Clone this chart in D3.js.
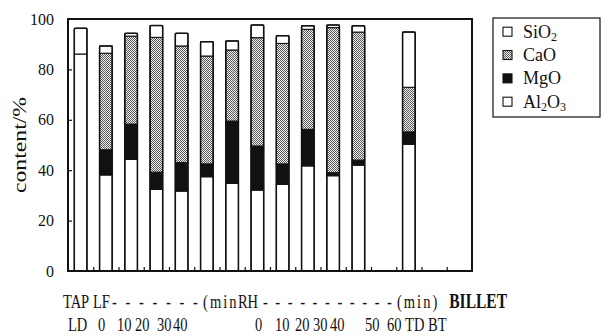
<!DOCTYPE html>
<html><head><meta charset="utf-8">
<script src="https://cdn.jsdelivr.net/npm/d3@7"></script>
<style>html,body{margin:0;padding:0;background:#fff;} svg{display:block;}</style>
</head><body><svg id="c" width="602" height="336"></svg>
<script>
// ---------- data ----------
const categories = ["TAP LD","LF 0","LF 10","LF 20","LF 30","LF 40","LF end","RH 0","RH 10","RH 20","RH 30","RH 40","RH 50","BILLET","TD","BT"];
const al2o3 = [86.1, 38.1, 44.3, 32.4, 31.7, 37.4, 34.8, 32.1, 34.4, 41.7, 37.8, 42.0, 0, 50.3, 0, 0];
const mgo   = [0,    10.0, 14.0,  6.8, 11.3,  5.1, 24.7, 17.5,  8.1, 14.5,  1.2,  2.0, 0,  4.9, 0, 0];
const cao   = [0,    38.3, 34.9, 53.5, 46.3, 42.8, 28.2, 43.0, 47.8, 39.7, 57.6, 50.8, 0, 17.7, 0, 0];
const sio2  = [10.2,  2.9,  1.1,  4.7,  5.0,  5.7,  3.6,  5.0,  3.1,  1.4,  1.0,  2.5, 0, 21.9, 0, 0];
const seriesKeys = ["Al2O3","MgO","CaO","SiO2"];
const legendKeys = ["SiO2","CaO","MgO","Al2O3"];
const yTicks = [0, 20, 40, 60, 80, 100];
const yTitle = "content/%";
const topRowLabels = ["TAP","LF","-------","(min","RH","-----------","(min)","BILLET"];
const bottomRowLabels = ["LD","0","10","20","30","40","0","10","20","30","40","50","60","TD","BT"];

// ---------- layout (not data) ----------
const m = {left: 68, right: 472, top: 19, bottom: 271};
const topRowStart = [-0.2, 0.99, 1.74, 5.35, 6.73, 7.72, 13.03, 15.1]; // slot units
const dashWidth = {2: 86, 5: 129};
const bottomRowStart = [0.0, 1.19, 1.94, 2.65, 3.52, 4.16, 7.41, 8.20, 8.99, 9.70, 10.38, 11.76, 12.63, 13.35, 14.26];
const rowFont = 14.5, rowStretch = 1.35;

const svg = d3.select("#c");
const defs = svg.append("defs");
const pat = defs.append("pattern").attr("id","dots").attr("patternUnits","userSpaceOnUse")
  .attr("width",2).attr("height",2);
pat.append("rect").attr("width",2).attr("height",2).attr("fill","#f0f0f0");
pat.append("rect").attr("x",0).attr("y",0).attr("width",1).attr("height",1).attr("fill","#5a5a5a");
pat.append("rect").attr("x",1).attr("y",1).attr("width",1).attr("height",1).attr("fill","#5a5a5a");

const fills = {SiO2:"#fff", CaO:"url(#dots)", MgO:"#111", Al2O3:"#fff"};

const x = d3.scaleBand().domain(categories).range([m.left, m.right]).paddingInner(0.5).paddingOuter(0.25);
const xSlot = d3.scaleLinear().domain([0, categories.length]).range([m.left, m.right]);
const y = d3.scaleLinear().domain([0, 100]).range([m.bottom, m.top]);

const rows = categories.map((c, i) => ({cat: c, Al2O3: al2o3[i], MgO: mgo[i], CaO: cao[i], SiO2: sio2[i]}));
const stacked = d3.stack().keys(seriesKeys)(rows);
const total = r => r.Al2O3 + r.MgO + r.CaO + r.SiO2;

// bars
const gBars = svg.append("g");
stacked.forEach(layer => {
  gBars.append("g").selectAll("rect")
    .data(layer.filter(d => d[1] - d[0] > 0))
    .join("rect")
    .attr("x", d => x(d.data.cat))
    .attr("width", x.bandwidth())
    .attr("y", d => y(d[1]))
    .attr("height", d => y(d[0]) - y(d[1]))
    .attr("fill", fills[layer.key])
    .attr("stroke", "#111").attr("stroke-width", 1.1);
});
gBars.append("g").selectAll("rect")
  .data(rows.filter(r => total(r) > 0))
  .join("rect")
  .attr("x", d => x(d.cat))
  .attr("width", x.bandwidth())
  .attr("y", d => y(total(d)))
  .attr("height", d => y(0) - y(total(d)))
  .attr("rx", 1.5)
  .attr("fill", "none").attr("stroke", "#111").attr("stroke-width", 1.5);

// y axis
const yAxis = svg.append("g").attr("transform", `translate(${m.left},0)`)
  .call(d3.axisLeft(y).tickValues(yTicks).tickSize(-4).tickPadding(14).tickFormat(d3.format("d")));
yAxis.select(".domain").remove();
yAxis.selectAll(".tick line").attr("stroke", "#111").attr("stroke-width", 1.2)
  .filter(d => d === 0 || d === 100).remove();
yAxis.selectAll("text").attr("font-family", "Liberation Serif").attr("font-size", 16).attr("fill", "#111");

// x ticks at slot boundaries
const xAxis = svg.append("g").attr("transform", `translate(0,${m.bottom})`)
  .call(d3.axisBottom(xSlot).tickValues(d3.range(1, categories.length)).tickSize(-4).tickFormat(""));
xAxis.select(".domain").remove();
xAxis.selectAll(".tick line").attr("stroke", "#111").attr("stroke-width", 1.2);

// frame
svg.append("rect").attr("x", m.left).attr("y", m.top)
  .attr("width", m.right - m.left).attr("height", m.bottom - m.top)
  .attr("fill", "none").attr("stroke", "#111").attr("stroke-width", 2);

// y title
svg.append("text").attr("transform", `translate(26,145) rotate(-90)`)
  .attr("text-anchor", "middle").attr("font-family", "Liberation Serif").attr("font-size", 19)
  .attr("fill", "#111").attr("textLength", 96).attr("lengthAdjust", "spacingAndGlyphs").text(yTitle);

// category rows (tall, narrow lettering)
const topRow = svg.append("g").attr("font-family", "Liberation Serif").attr("font-size", rowFont).attr("fill", "#111");
topRowLabels.forEach((t, i) => {
  const el = topRow.append("text")
    .attr("transform", `translate(${xSlot(topRowStart[i])},308) scale(1,${rowStretch})`)
    .text(t);
  if (dashWidth[i]) el.attr("textLength", dashWidth[i]).attr("lengthAdjust", "spacing");
  if (t.startsWith("(")) el.attr("letter-spacing", 2);
  if (t === "BILLET") el.attr("font-weight", "bold").attr("font-size", 15.5);
});
const bottomRow = svg.append("g").attr("font-family", "Liberation Serif").attr("font-size", rowFont).attr("fill", "#111");
bottomRowLabels.forEach((t, i) => {
  bottomRow.append("text")
    .attr("transform", `translate(${xSlot(bottomRowStart[i])},331) scale(1,${rowStretch})`)
    .text(t);
});

// legend
const lg = svg.append("g");
lg.append("rect").attr("x", 493).attr("y", 18).attr("width", 107).attr("height", 99)
  .attr("fill", "#fff").attr("stroke", "#111").attr("stroke-width", 1.2);
const ly = d3.scalePoint().domain(legendKeys).range([31.7, 101.7]);
legendKeys.forEach(k => {
  lg.append("rect").attr("x", 503).attr("y", ly(k) - 4.5).attr("width", 9).attr("height", 9)
    .attr("fill", fills[k]).attr("stroke", "#111").attr("stroke-width", 1.1);
  const t = lg.append("text").attr("x", 523).attr("y", ly(k) + 6)
    .attr("font-family", "Liberation Serif").attr("font-size", 18).attr("fill", "#111");
  let sub = false;
  k.match(/[A-Za-z]+|\d+/g).forEach(p => {
    const isNum = /\d/.test(p);
    const dy = isNum && !sub ? 3 : (!isNum && sub ? -3 : 0);
    t.append("tspan").attr("dy", dy).attr("font-size", isNum ? 12 : 18).text(p);
    sub = isNum;
  });
});
</script></body></html>
